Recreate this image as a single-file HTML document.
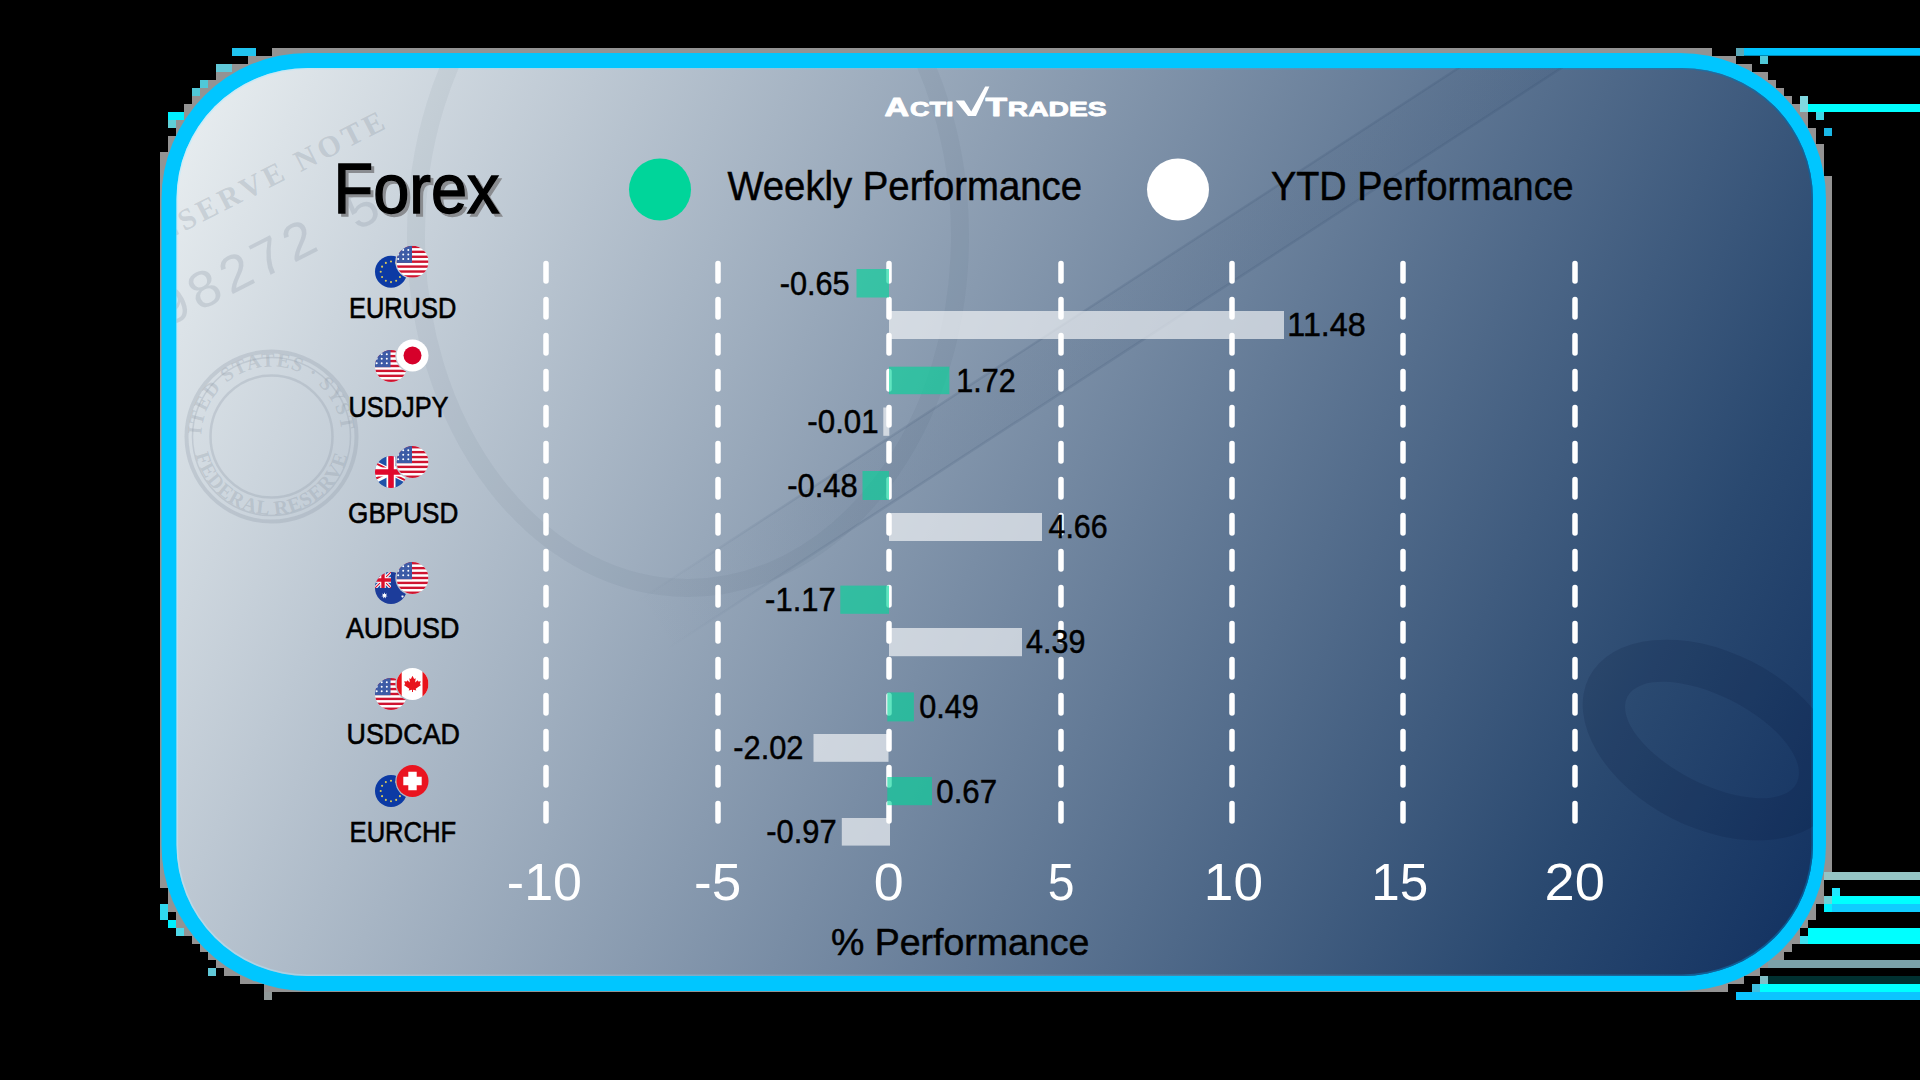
<!DOCTYPE html>
<html><head><meta charset="utf-8">
<style>
html,body{margin:0;padding:0;background:#000;width:1920px;height:1080px;overflow:hidden}
svg{display:block}
text{font-family:"Liberation Sans",sans-serif}
</style></head>
<body>
<svg width="1920" height="1080" viewBox="0 0 1920 1080">
<defs>
  <linearGradient id="bandg" x1="0" y1="0" x2="1" y2="0"><stop offset="0" stop-color="#1e3658" stop-opacity="0"/><stop offset="0.2" stop-color="#1e3658" stop-opacity="0.12"/><stop offset="0.9" stop-color="#1e3658" stop-opacity="0.12"/><stop offset="1" stop-color="#1e3658" stop-opacity="0.05"/></linearGradient>
  <linearGradient id="glow" x1="176" y1="0" x2="1813" y2="0" gradientUnits="userSpaceOnUse"><stop offset="0" stop-color="#b8ecff" stop-opacity="0.5"/><stop offset="0.5" stop-color="#60c8f0" stop-opacity="0.3"/><stop offset="1" stop-color="#0068a8" stop-opacity="0.7"/></linearGradient>
  <clipPath id="cardclip"><rect x="176.5" y="68" width="1636.5" height="908" rx="131" ry="131"/></clipPath>
  <linearGradient id="bg" x1="176" y1="68" x2="1847.6" y2="907" gradientUnits="userSpaceOnUse">
    <stop offset="0" stop-color="#ebf0f2"/>
    <stop offset="0.5" stop-color="#798da5"/>
    <stop offset="0.85" stop-color="#2a4970"/>
    <stop offset="1" stop-color="#113060"/>
  </linearGradient>
<clipPath id="cf"><circle cx="0" cy="0" r="16"/></clipPath>
<g id="fUS"><g clip-path="url(#cf)"><rect x="-16" y="-16" width="32" h="32" height="32" fill="#fff"/><rect x="-16" y="-16.00" width="32" height="2.41" fill="#cf1430"/><rect x="-16" y="-11.08" width="32" height="2.41" fill="#cf1430"/><rect x="-16" y="-6.15" width="32" height="2.41" fill="#cf1430"/><rect x="-16" y="-1.23" width="32" height="2.41" fill="#cf1430"/><rect x="-16" y="3.69" width="32" height="2.41" fill="#cf1430"/><rect x="-16" y="8.62" width="32" height="2.41" fill="#cf1430"/><rect x="-16" y="13.54" width="32" height="2.41" fill="#cf1430"/><rect x="-16" y="-16" width="15.5" height="17.2" fill="#3d5ba6"/><circle cx="-14.3" cy="-11.8" r="1" fill="#fff"/><circle cx="-14.3" cy="-7.3" r="1" fill="#fff"/><circle cx="-14.3" cy="-2.7" r="1" fill="#fff"/><circle cx="-9.3" cy="-11.8" r="1" fill="#fff"/><circle cx="-9.3" cy="-7.3" r="1" fill="#fff"/><circle cx="-9.3" cy="-2.7" r="1" fill="#fff"/><circle cx="-4.2" cy="-11.8" r="1" fill="#fff"/><circle cx="-4.2" cy="-7.3" r="1" fill="#fff"/><circle cx="-4.2" cy="-2.7" r="1" fill="#fff"/></g></g>
<g id="fEU"><circle r="16" fill="#0c3aa4"/><circle cx="10.30" cy="0.00" r="1.05" fill="#d9c95a"/><circle cx="8.92" cy="5.15" r="1.05" fill="#d9c95a"/><circle cx="5.15" cy="8.92" r="1.05" fill="#d9c95a"/><circle cx="0.00" cy="10.30" r="1.05" fill="#d9c95a"/><circle cx="-5.15" cy="8.92" r="1.05" fill="#d9c95a"/><circle cx="-8.92" cy="5.15" r="1.05" fill="#d9c95a"/><circle cx="-10.30" cy="0.00" r="1.05" fill="#d9c95a"/><circle cx="-8.92" cy="-5.15" r="1.05" fill="#d9c95a"/><circle cx="-5.15" cy="-8.92" r="1.05" fill="#d9c95a"/><circle cx="-0.00" cy="-10.30" r="1.05" fill="#d9c95a"/><circle cx="5.15" cy="-8.92" r="1.05" fill="#d9c95a"/><circle cx="8.92" cy="-5.15" r="1.05" fill="#d9c95a"/></g>
<g id="fJP"><circle r="16" fill="#fff"/><circle r="9" fill="#d6002a"/></g>
<g id="fGB"><g clip-path="url(#cf)"><rect x="-32" y="-16" width="64" height="32" fill="#1f52a8"/><path d="M-32,-16 L32,16 M32,-16 L-32,16" stroke="#fff" stroke-width="6.4"/><path d="M-32,-17.1 L0,-1.1 M32,17.1 L0,1.1 M32,-15 L0,1 M-32,15 L0,-1" stroke="#d8102c" stroke-width="2.1"/><path d="M0,-16 V16 M-32,0 H32" stroke="#fff" stroke-width="9"/><path d="M0,-16 V16 M-32,0 H32" stroke="#e0082c" stroke-width="5.6"/></g></g></g>
<g id="fAU"><g clip-path="url(#cf)"><rect x="-16" y="-16" width="32" height="32" fill="#1c3c9a"/><clipPath id="auq"><rect x="-16" y="-16" width="16" height="16"/></clipPath><g clip-path="url(#auq)"><g transform="translate(-8,-8) scale(0.5)"><rect x="-16" y="-16" width="32" height="32" fill="#2356a8"/><path d="M-16,-16 L16,16 M16,-16 L-16,16" stroke="#fff" stroke-width="6.5"/><path d="M-16,-16 L16,16 M16,-16 L-16,16" stroke="#d8102c" stroke-width="2.2"/><path d="M0,-16 V16 M-16,0 H16" stroke="#fff" stroke-width="11"/><path d="M0,-16 V16 M-16,0 H16" stroke="#d8102c" stroke-width="6.8"/></g></g><polygon points="-6.50,4.30 -5.85,6.15 -4.00,5.50 -5.04,7.17 -3.38,8.21 -5.33,8.44 -5.11,10.38 -6.50,9.00 -7.89,10.38 -7.67,8.44 -9.62,8.21 -7.96,7.17 -9.00,5.50 -7.15,6.15" fill="#fff"/><polygon points="11.50,6.90 11.80,7.87 12.75,7.50 12.18,8.34 13.06,8.86 12.05,8.94 12.19,9.94 11.50,9.20 10.81,9.94 10.95,8.94 9.94,8.86 10.82,8.34 10.25,7.50 11.20,7.87" fill="#fff"/></g></g>
<g id="fCA"><g clip-path="url(#cf)"><rect x="-16" y="-16" width="32" height="32" fill="#fff"/><rect x="-16" y="-16" width="5.2" height="32" fill="#e8141c"/><rect x="10" y="-16" width="6" height="32" fill="#e8141c"/><polygon points="0,-8.2 1.6,-5 3.2,-5.8 2.6,-1.5 5.2,-3.8 5.8,-2.4 8.3,-2.8 7.3,0.2 8.6,1.1 3.2,4.8 3.8,6.4 0.5,5.8 0.5,8 -0.5,8 -0.5,5.8 -3.8,6.4 -3.2,4.8 -8.6,1.1 -7.3,0.2 -8.3,-2.8 -5.8,-2.4 -5.2,-3.8 -2.6,-1.5 -3.2,-5.8 -1.6,-5" fill="#e8141c"/></g></g>
<g id="fCH"><circle r="16" fill="#ea1420"/><path d="M-4.2,-9.2 H4.2 V-4.2 H9.2 V4.2 H4.2 V9.2 H-4.2 V4.2 H-9.2 V-4.2 H-4.2 Z" fill="#fff"/></g>
<mask id="m0" maskUnits="userSpaceOnUse" x="360" y="241.8" width="90" height="60"><rect x="360" y="241.8" width="90" height="60" fill="#fff"/><circle cx="412.5" cy="261.7" r="17.2" fill="#000"/></mask>
<mask id="m1" maskUnits="userSpaceOnUse" x="360" y="336" width="90" height="60"><rect x="360" y="336" width="90" height="60" fill="#fff"/><circle cx="412.5" cy="355.5" r="17.2" fill="#000"/></mask>
<mask id="m2" maskUnits="userSpaceOnUse" x="360" y="442" width="90" height="60"><rect x="360" y="442" width="90" height="60" fill="#fff"/><circle cx="412.5" cy="462" r="17.2" fill="#000"/></mask>
<mask id="m3" maskUnits="userSpaceOnUse" x="360" y="558" width="90" height="60"><rect x="360" y="558" width="90" height="60" fill="#fff"/><circle cx="412.5" cy="578" r="17.2" fill="#000"/></mask>
<mask id="m4" maskUnits="userSpaceOnUse" x="360" y="664" width="90" height="60"><rect x="360" y="664" width="90" height="60" fill="#fff"/><circle cx="412.5" cy="684" r="17.2" fill="#000"/></mask>
<mask id="m5" maskUnits="userSpaceOnUse" x="360" y="761" width="90" height="60"><rect x="360" y="761" width="90" height="60" fill="#fff"/><circle cx="412.5" cy="781" r="17.2" fill="#000"/></mask>
</defs>
<rect x="0" y="0" width="1920" height="1080" fill="#000"/>
<!-- frame -->
<g id="frame-blocks">
<path fill="#939393" d="M272,48h1440v8h-1440zM248,56h1488v8h-1488zM232,64h1520v8h-1520zM216,72h1552v8h-1552zM208,80h1568v8h-1568zM200,88h1584v8h-1584zM192,96h1600v8h-1600zM184,104h1616v8h-1616zM184,112h1624v8h-1624zM176,120h1632v8h-1632zM176,128h1640v8h-1640zM168,136h1648v8h-1648zM168,144h1656v8h-1656zM160,152h1664v8h-1664zM160,160h1664v8h-1664zM160,168h1664v8h-1664zM160,176h1672v8h-1672zM160,184h1672v8h-1672zM160,192h1672v8h-1672zM160,200h1672v8h-1672zM160,208h1672v8h-1672zM160,216h1672v8h-1672zM160,224h1672v8h-1672zM160,232h1672v8h-1672zM160,240h1672v8h-1672zM160,248h1672v8h-1672zM160,256h1672v8h-1672zM160,264h1672v8h-1672zM160,272h1672v8h-1672zM160,280h1672v8h-1672zM160,288h1672v8h-1672zM160,296h1672v8h-1672zM160,304h1672v8h-1672zM160,312h1672v8h-1672zM160,320h1672v8h-1672zM160,328h1672v8h-1672zM160,336h1672v8h-1672zM160,344h1672v8h-1672zM160,352h1672v8h-1672zM160,360h1672v8h-1672zM160,368h1672v8h-1672zM160,376h1672v8h-1672zM160,384h1672v8h-1672zM160,392h1672v8h-1672zM160,400h1672v8h-1672zM160,408h1672v8h-1672zM160,416h1672v8h-1672zM160,424h1672v8h-1672zM160,432h1672v8h-1672zM160,440h1672v8h-1672zM160,448h1672v8h-1672zM160,456h1672v8h-1672zM160,464h1672v8h-1672zM160,472h1672v8h-1672zM160,480h1672v8h-1672zM160,488h1672v8h-1672zM160,496h1672v8h-1672zM160,504h1672v8h-1672zM160,512h1672v8h-1672zM160,520h1672v8h-1672zM160,528h1672v8h-1672zM160,536h1672v8h-1672zM160,544h1672v8h-1672zM160,552h1672v8h-1672zM160,560h1672v8h-1672zM160,568h1672v8h-1672zM160,576h1672v8h-1672zM160,584h1672v8h-1672zM160,592h1672v8h-1672zM160,600h1672v8h-1672zM160,608h1672v8h-1672zM160,616h1672v8h-1672zM160,624h1672v8h-1672zM160,632h1672v8h-1672zM160,640h1672v8h-1672zM160,648h1672v8h-1672zM160,656h1672v8h-1672zM160,664h1672v8h-1672zM160,672h1672v8h-1672zM160,680h1672v8h-1672zM160,688h1672v8h-1672zM160,696h1672v8h-1672zM160,704h1672v8h-1672zM160,712h1672v8h-1672zM160,720h1672v8h-1672zM160,728h1672v8h-1672zM160,736h1672v8h-1672zM160,744h1672v8h-1672zM160,752h1672v8h-1672zM160,760h1672v8h-1672zM160,768h1672v8h-1672zM160,776h1672v8h-1672zM160,784h1672v8h-1672zM160,792h1672v8h-1672zM160,800h1672v8h-1672zM160,808h1672v8h-1672zM160,816h1672v8h-1672zM160,824h1672v8h-1672zM160,832h1672v8h-1672zM160,840h1672v8h-1672zM160,848h1672v8h-1672zM160,856h1672v8h-1672zM160,864h1672v8h-1672zM160,872h1664v8h-1664zM160,880h1664v8h-1664zM168,888h1656v8h-1656zM168,896h1656v8h-1656zM168,904h1648v8h-1648zM176,912h1640v8h-1640zM176,920h1632v8h-1632zM184,928h1616v8h-1616zM192,936h1608v8h-1608zM200,944h1592v8h-1592zM208,952h1576v8h-1576zM216,960h1560v8h-1560zM224,968h1536v8h-1536zM240,976h1504v8h-1504zM264,984h1464v8h-1464z"/>
<rect x="1736" y="48" width="184" height="7.7" fill="#00c4ff"/>
<rect x="1736" y="48" width="8" height="8" fill="#5aa8b8"/>
<rect x="1760" y="56" width="8" height="8" fill="#50c8d8"/>
<rect x="1800" y="104" width="120" height="8" fill="#00ffff"/>
<rect x="1800" y="96" width="8" height="16" fill="#80d8e0"/>
<rect x="1816" y="112" width="8" height="8" fill="#40d8e8"/>
<rect x="1824" y="128" width="8" height="8" fill="#1ab8e6"/>
<rect x="1824" y="872" width="96" height="8" fill="#94c4c4"/>
<rect x="1832" y="888" width="8" height="8" fill="#20e8ff"/>
<rect x="1824" y="896" width="96" height="8" fill="#00ffff"/>
<rect x="1824" y="896" width="8" height="8" fill="#70d0d8"/>
<rect x="1824" y="904" width="96" height="8" fill="#10ccff"/>
<rect x="1824" y="904" width="8" height="8" fill="#00f0ff"/>
<rect x="1808" y="928" width="112" height="16" fill="#00ffff"/>
<rect x="1800" y="936" width="8" height="8" fill="#40e0f0"/>
<rect x="1768" y="960" width="152" height="8" fill="#7aa0a8"/>
<rect x="1768" y="976" width="152" height="8" fill="#003030"/>
<rect x="1760" y="976" width="8" height="8" fill="#80c0c8"/>
<rect x="1760" y="984" width="160" height="8" fill="#00ffff"/>
<rect x="1752" y="984" width="8" height="8" fill="#40c0e0"/>
<rect x="1736" y="992" width="184" height="8" fill="#0cc4ff"/>
<rect x="232" y="48" width="24" height="8" fill="#20c4f0"/>
<rect x="216" y="64" width="16" height="8" fill="#60c8d8"/>
<rect x="200" y="80" width="8" height="8" fill="#50c8d8"/>
<rect x="192" y="88" width="8" height="8" fill="#50c8d8"/>
<rect x="168" y="112" width="16" height="8" fill="#00f0ff"/>
<rect x="168" y="120" width="8" height="8" fill="#60d0d8"/>
<rect x="160" y="904" width="8" height="16" fill="#30d8f0"/>
<rect x="168" y="920" width="8" height="8" fill="#00f0ff"/>
<rect x="176" y="928" width="8" height="8" fill="#50d8e8"/>
<rect x="208" y="968" width="8" height="8" fill="#60c8d8"/>
<rect x="264" y="992" width="8" height="8" fill="#909898"/>
</g>
<rect x="161.5" y="53" width="1664.5" height="938" rx="146" ry="146" fill="#00c6ff"/>
<rect x="176.5" y="68" width="1636.5" height="908" rx="131" ry="131" fill="url(#bg)"/>
<rect x="177.3" y="68.8" width="1634.9" height="906.4" rx="130.2" ry="130.2" fill="none" stroke="url(#glow)" stroke-width="1.6"/>

<!-- texture -->
<g id="texture" clip-path="url(#cardclip)" fill="none">
  <g stroke="#8d98a4" stroke-opacity="0.28">
    <circle cx="271.5" cy="436.6" r="85" stroke-width="4"/>
    <circle cx="271.5" cy="436.6" r="79" stroke-width="1.5"/>
    <circle cx="271.5" cy="436.6" r="61" stroke-width="2.5"/>
  </g>
  <path id="sealpath" d="M201.5,436.6 a70,70 0 1,1 140,0" stroke="none"/>
  <path id="sealpath2" d="M193.5,436.6 a78,78 0 0,0 156,0" stroke="none"/>
  <text style="font-family:'Liberation Serif',serif" font-weight="bold" font-size="20" fill="#8d98a4" fill-opacity="0.3" letter-spacing="1"><textPath href="#sealpath" startOffset="50%" text-anchor="middle">UNITED STATES · SYSTEM</textPath></text>
  <text style="font-family:'Liberation Serif',serif" font-weight="bold" font-size="20" fill="#8d98a4" fill-opacity="0.3" letter-spacing="1"><textPath href="#sealpath2" startOffset="50%" text-anchor="middle">FEDERAL RESERVE</textPath></text>
  <g transform="translate(186,318) rotate(-27)">
    <text x="-22" y="0" style="font-family:'Liberation Mono',monospace" font-size="54" fill="#8d98a4" fill-opacity="0.28" letter-spacing="3">98272 5</text>
    <text x="-12" y="-78" style="font-family:'Liberation Serif',serif" font-weight="bold" font-size="30" fill="#8d98a4" fill-opacity="0.3" letter-spacing="4">RESERVE NOTE</text>
  </g>
  <ellipse cx="688" cy="236" rx="272" ry="352" stroke="#1e3658" stroke-opacity="0.05" stroke-width="18"/>
  <g transform="translate(1168,290) rotate(-33)">
    <rect x="-620" y="-28" width="1240" height="56" fill="url(#bandg)" fill-opacity="0.5"/>
    <rect x="-620" y="-29.2" width="1240" height="2.5" fill="url(#bandg)"/>
    <rect x="-620" y="26.8" width="1240" height="2.5" fill="url(#bandg)"/>
  </g>
  <g transform="translate(1712,740) rotate(27)">
    <path fill="#001030" fill-opacity="0.14" fill-rule="evenodd" d="M-138,0 a138,88 0 1,0 276,0 a138,88 0 1,0 -276,0 Z M-95,0 a95,44 0 1,0 190,0 a95,44 0 1,0 -190,0 Z"/>
  </g>
</g>
<!-- logo -->
<g id="logo" fill="#fff" font-weight="bold" stroke="#fff" stroke-width="0.9" stroke-linejoin="round">
  <text x="884.4" y="115.6" font-size="25" textLength="24.6" lengthAdjust="spacingAndGlyphs">A</text>
  <text x="910" y="115.6" font-size="21" textLength="43.5" lengthAdjust="spacingAndGlyphs">CTI</text>
  <polygon stroke="none" points="955.6,100.6 964.2,100.6 971.2,111.5 985.2,86.4 989.4,86.4 976,116 968,116"/>
  <text x="985.4" y="115.6" font-size="25" textLength="21.6" lengthAdjust="spacingAndGlyphs">T</text>
  <text x="1007.8" y="115.6" font-size="21" textLength="98.8" lengthAdjust="spacingAndGlyphs">RADES</text>
</g>

<!-- legend -->
<circle cx="660" cy="189.5" r="31" fill="#00d59a"/>
<circle cx="1178" cy="189.5" r="31" fill="#fff"/>

<!-- grid -->
<g stroke="#fff" stroke-width="5.5" stroke-linecap="round" stroke-dasharray="17.5 18.5">
  <line x1="546" y1="263.4" x2="546" y2="822"/>
  <line x1="718" y1="263.4" x2="718" y2="822"/>
  <line x1="889" y1="263.4" x2="889" y2="822"/>
  <line x1="1061" y1="263.4" x2="1061" y2="822"/>
  <line x1="1232" y1="263.4" x2="1232" y2="822"/>
  <line x1="1403" y1="263.4" x2="1403" y2="822"/>
  <line x1="1575" y1="263.4" x2="1575" y2="822"/>
</g>

<!-- bars -->
<g fill="#00d59a" fill-opacity="0.62">
  <rect x="856.5" y="269" width="32.5" height="28.5"/>
  <rect x="889" y="366.7" width="60.4" height="27.5"/>
  <rect x="862.5" y="471" width="26.5" height="29"/>
  <rect x="840.3" y="585.6" width="48.7" height="28.2"/>
  <rect x="887.3" y="692.4" width="26.6" height="29"/>
  <rect x="887.3" y="777" width="44.7" height="28.2"/>
</g>
<g fill="#fff" fill-opacity="0.62">
  <rect x="889" y="311" width="395" height="28"/>
  <rect x="883.3" y="407.5" width="6" height="28.3"/>
  <rect x="889" y="513" width="153" height="28"/>
  <rect x="889" y="628" width="133" height="28.2"/>
  <rect x="813.5" y="734" width="75" height="27.8"/>
  <rect x="841.8" y="818" width="48.2" height="27.6"/>
</g>

<!-- texts -->
<text x="336.48" y="216" font-size="70.5" fill="#8a8c90" stroke="#8a8c90" stroke-width="1.4" textLength="166.05" lengthAdjust="spacingAndGlyphs">Forex</text>
<text x="333.48" y="213" font-size="70.5" fill="#000" stroke="#000" stroke-width="1.4" textLength="166.05" lengthAdjust="spacingAndGlyphs">Forex</text>
<text x="727.40" y="200.2" font-size="40" fill="#000" stroke="#000" stroke-width="0.5" textLength="354.60" lengthAdjust="spacingAndGlyphs">Weekly Performance</text>
<text x="1271.00" y="199.8" font-size="40" fill="#000" stroke="#000" stroke-width="0.5" textLength="302.60" lengthAdjust="spacingAndGlyphs">YTD Performance</text>
<text x="779.72" y="294.5" font-size="33.5" fill="#000" stroke="#000" stroke-width="0.5" textLength="69.95" lengthAdjust="spacingAndGlyphs">-0.65</text>
<text x="1287.33" y="336.4" font-size="33.5" fill="#000" stroke="#000" stroke-width="0.5" textLength="78.35" lengthAdjust="spacingAndGlyphs">11.48</text>
<text x="956.33" y="391.6" font-size="33.5" fill="#000" stroke="#000" stroke-width="0.5" textLength="59.35" lengthAdjust="spacingAndGlyphs">1.72</text>
<text x="807.33" y="433" font-size="33.5" fill="#000" stroke="#000" stroke-width="0.5" textLength="71.35" lengthAdjust="spacingAndGlyphs">-0.01</text>
<text x="787.33" y="496.8" font-size="33.5" fill="#000" stroke="#000" stroke-width="0.5" textLength="70.35" lengthAdjust="spacingAndGlyphs">-0.48</text>
<text x="1048.53" y="538.4" font-size="33.5" fill="#000" stroke="#000" stroke-width="0.5" textLength="59.15" lengthAdjust="spacingAndGlyphs">4.66</text>
<text x="765.12" y="611" font-size="33.5" fill="#000" stroke="#000" stroke-width="0.5" textLength="70.55" lengthAdjust="spacingAndGlyphs">-1.17</text>
<text x="1026.12" y="653.4" font-size="33.5" fill="#000" stroke="#000" stroke-width="0.5" textLength="59.35" lengthAdjust="spacingAndGlyphs">4.39</text>
<text x="919.33" y="718.2" font-size="33.5" fill="#000" stroke="#000" stroke-width="0.5" textLength="59.55" lengthAdjust="spacingAndGlyphs">0.49</text>
<text x="733.33" y="759.3" font-size="33.5" fill="#000" stroke="#000" stroke-width="0.5" textLength="70.15" lengthAdjust="spacingAndGlyphs">-2.02</text>
<text x="936.33" y="802.5" font-size="33.5" fill="#000" stroke="#000" stroke-width="0.5" textLength="60.75" lengthAdjust="spacingAndGlyphs">0.67</text>
<text x="766.33" y="843.3" font-size="33.5" fill="#000" stroke="#000" stroke-width="0.5" textLength="70.35" lengthAdjust="spacingAndGlyphs">-0.97</text>
<text x="348.95" y="318" font-size="28.9" fill="#000" stroke="#000" stroke-width="0.6" textLength="107.29" lengthAdjust="spacingAndGlyphs">EURUSD</text>
<text x="348.56" y="416.7" font-size="28.9" fill="#000" stroke="#000" stroke-width="0.6" textLength="99.89" lengthAdjust="spacingAndGlyphs">USDJPY</text>
<text x="348.06" y="523" font-size="28.9" fill="#000" stroke="#000" stroke-width="0.6" textLength="110.39" lengthAdjust="spacingAndGlyphs">GBPUSD</text>
<text x="345.95" y="638" font-size="28.9" fill="#000" stroke="#000" stroke-width="0.6" textLength="113.49" lengthAdjust="spacingAndGlyphs">AUDUSD</text>
<text x="346.56" y="743.75" font-size="28.9" fill="#000" stroke="#000" stroke-width="0.6" textLength="113.39" lengthAdjust="spacingAndGlyphs">USDCAD</text>
<text x="349.56" y="841.75" font-size="28.9" fill="#000" stroke="#000" stroke-width="0.6" textLength="106.69" lengthAdjust="spacingAndGlyphs">EURCHF</text>
<text x="506.82" y="899.6" font-size="51.5" fill="#fff" textLength="75.15" lengthAdjust="spacingAndGlyphs">-10</text>
<text x="694.03" y="899.6" font-size="51.5" fill="#fff" textLength="47.15" lengthAdjust="spacingAndGlyphs">-5</text>
<text x="873.82" y="899.6" font-size="51.5" fill="#fff" textLength="29.95" lengthAdjust="spacingAndGlyphs">0</text>
<text x="1047.63" y="899.6" font-size="51.5" fill="#fff" textLength="26.75" lengthAdjust="spacingAndGlyphs">5</text>
<text x="1203.83" y="899.6" font-size="51.5" fill="#fff" textLength="59.15" lengthAdjust="spacingAndGlyphs">10</text>
<text x="1371.22" y="899.6" font-size="51.5" fill="#fff" textLength="56.95" lengthAdjust="spacingAndGlyphs">15</text>
<text x="1544.63" y="899.6" font-size="51.5" fill="#fff" textLength="60.35" lengthAdjust="spacingAndGlyphs">20</text>
<text x="830.92" y="954.6" font-size="37.5" fill="#000" stroke="#000" stroke-width="0.5" textLength="258.35" lengthAdjust="spacingAndGlyphs">% Performance</text>
<!-- flags -->
<g id="flags">
<g mask="url(#m0)"><use href="#fEU" transform="translate(391,271.8)"/></g>
<use href="#fUS" transform="translate(412.5,261.7)"/>
<g mask="url(#m1)"><use href="#fUS" transform="translate(391,366)"/></g>
<use href="#fJP" transform="translate(412.5,355.5)"/>
<g mask="url(#m2)"><use href="#fGB" transform="translate(391,472)"/></g>
<use href="#fUS" transform="translate(412.5,462)"/>
<g mask="url(#m3)"><use href="#fAU" transform="translate(391,588)"/></g>
<use href="#fUS" transform="translate(412.5,578)"/>
<g mask="url(#m4)"><use href="#fUS" transform="translate(391,694)"/></g>
<use href="#fCA" transform="translate(412.5,684)"/>
<g mask="url(#m5)"><use href="#fEU" transform="translate(391,791)"/></g>
<use href="#fCH" transform="translate(412.5,781)"/>
</g>
</svg>
</body></html>
